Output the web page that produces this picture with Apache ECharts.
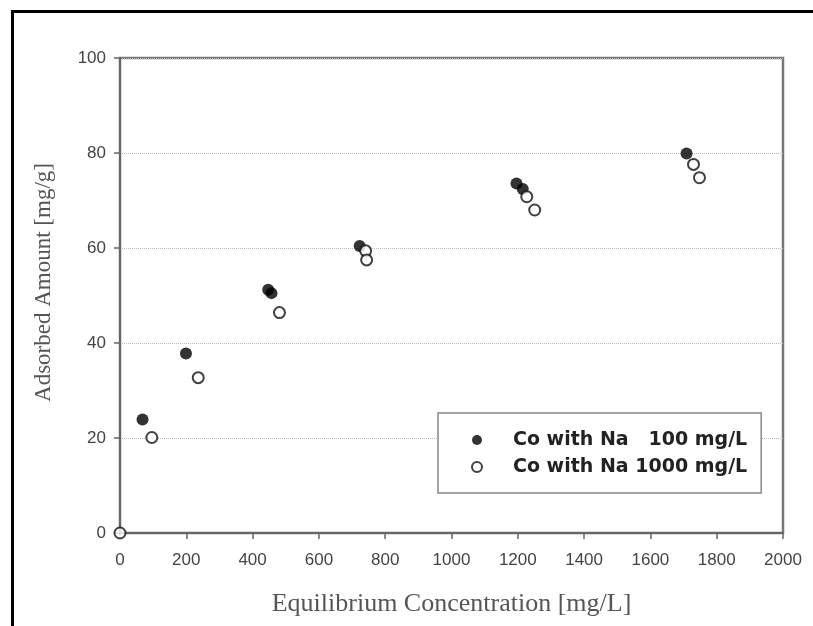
<!DOCTYPE html>
<html>
<head>
<meta charset="utf-8">
<script src="https://cdn.jsdelivr.net/npm/echarts@6/dist/echarts.min.js"></script>
<style>
html,body{margin:0;padding:0;background:#fff;}
#chart{width:813px;height:626px;}
</style>
</head>
<body>
<div id="chart"></div>
<script>
// Data
var seriesNames = ['Co with Na   100 mg/L', 'Co with Na 1000 mg/L'];
var na100X = [68, 199, 447, 457, 723, 1196, 1215, 1709];
var na100Y = [23.9, 37.8, 51.2, 50.5, 60.4, 73.6, 72.4, 79.9];
var na1000X = [0, 96, 236, 481, 741, 744, 1227, 1251, 1730, 1748];
var na1000Y = [0, 20.1, 32.7, 46.4, 59.4, 57.5, 70.8, 68.0, 77.6, 74.8];
var xTicks = [0, 200, 400, 600, 800, 1000, 1200, 1400, 1600, 1800, 2000];
var yTicks = [0, 20, 40, 60, 80, 100];

function pairs(xs, ys) { return xs.map(function (x, i) { return [x, ys[i]]; }); }

var chart = echarts.init(document.getElementById('chart'), null, { renderer: 'canvas' });
chart.setOption({
  animation: false,
  backgroundColor: '#ffffff',
  grid: {
    left: 120, top: 58, right: 30, bottom: 93,
    outerBoundsMode: 'none', containLabel: false,
    show: true, borderColor: '#777', borderWidth: 2.5, backgroundColor: 'transparent'
  },
  graphic: [{
    type: 'rect', left: 10, top: 9, z: 100,
    shape: { width: 900, height: 700 },
    style: { fill: 'none', stroke: '#000', lineWidth: 3 }
  }],
  xAxis: {
    type: 'value', min: xTicks[0], max: xTicks[xTicks.length - 1], interval: 200,
    name: 'Equilibrium Concentration [mg/L]', nameLocation: 'middle', nameGap: 58,
    nameTextStyle: { fontFamily: 'Liberation Serif', fontSize: 26, color: '#555' },
    axisLine: { show: true, lineStyle: { color: '#666', width: 2 } },
    axisTick: { show: true, inside: false, length: 6, lineStyle: { color: '#666', width: 1.5 } },
    axisLabel: { margin: 19, fontFamily: 'Liberation Sans', fontSize: 17, color: '#444',
      formatter: function (v) { return String(v); } },
    splitLine: { show: false }
  },
  yAxis: {
    type: 'value', min: yTicks[0], max: yTicks[yTicks.length - 1], interval: 20,
    name: 'Adsorbed Amount [mg/g]', nameLocation: 'middle', nameGap: 65,
    nameTextStyle: { fontFamily: 'Liberation Serif', fontSize: 23, color: '#555', padding: [0, 0, 0, 26] },
    axisLine: { show: true, lineStyle: { color: '#666', width: 2 } },
    axisTick: { show: true, inside: false, length: 6, lineStyle: { color: '#666', width: 1.5 } },
    axisLabel: { margin: 14, fontFamily: 'Liberation Sans', fontSize: 17, color: '#444' },
    splitLine: { show: true, lineStyle: { color: '#bbb', type: 'dotted', width: 1 } }
  },
  legend: {
    orient: 'vertical', left: 438, top: 413,
    padding: [17, 14, 16, 33],
    itemWidth: 62, itemHeight: 10, itemGap: 7,
    borderColor: '#888', borderWidth: 1.5, backgroundColor: '#fff',
    textStyle: { fontFamily: 'DejaVu Sans', fontSize: 19, fontWeight: 'bold', color: '#222', lineHeight: 20 },
    data: [
      { name: seriesNames[0], icon: 'circle' },
      { name: seriesNames[1], icon: 'circle' }
    ]
  },
  series: [
    {
      name: seriesNames[0], type: 'scatter', symbol: 'circle', symbolSize: 12, z: 3,
      itemStyle: { color: '#000', borderColor: '#000', borderWidth: 0 },
      data: pairs(na100X, na100Y)
    },
    {
      name: seriesNames[1], type: 'scatter', symbol: 'circle', symbolSize: 11, z: 4,
      itemStyle: { color: '#fff', borderColor: '#111', borderWidth: 2 },
      data: pairs(na1000X, na1000Y)
    }
  ]
});
</script>
</body>
</html>
